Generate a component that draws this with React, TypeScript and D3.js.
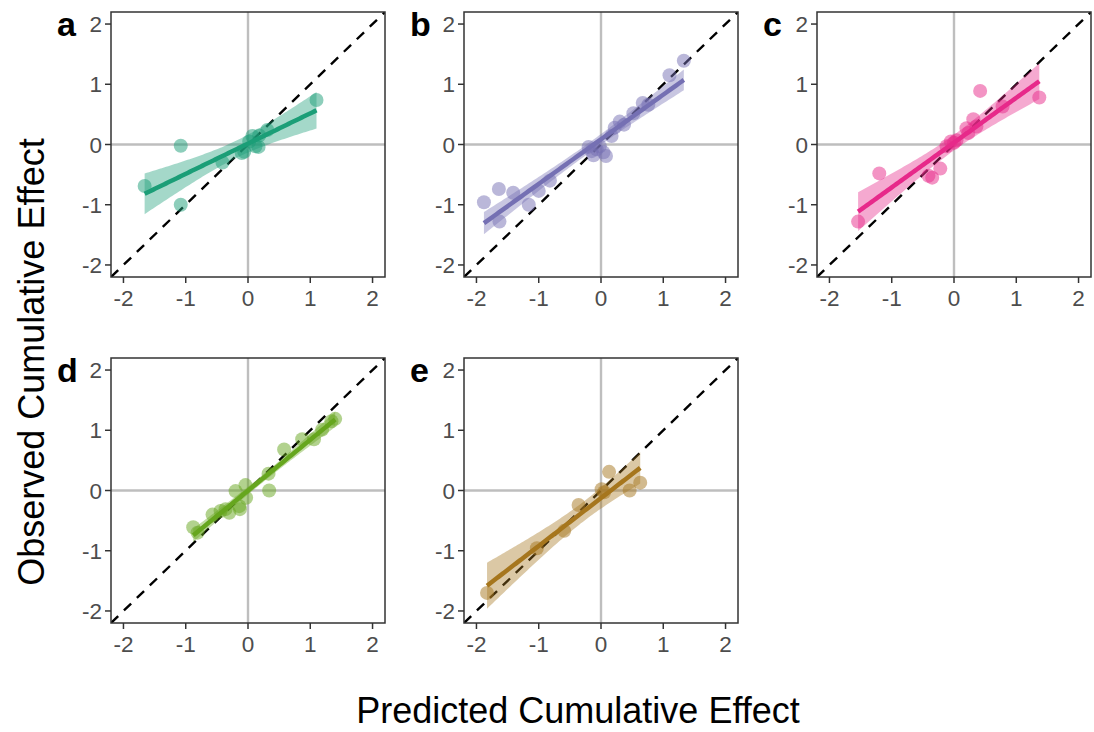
import React from 'react';
import * as d3 from 'd3';

// observed vs predicted cumulative effect, one panel per group
const panelLabels = ['a', 'b', 'c', 'd', 'e'];
const panelColors = ['#1B9E77', '#7570B3', '#E7298A', '#66A61E', '#A6761D'];

const predA = [-1.66, -1.08, -1.08, -0.41, -0.10, -0.06, 0.02, 0.07, 0.12, 0.17, 0.18, 0.31, 1.10];
const obsA = [-0.69, -0.02, -1.00, -0.30, -0.14, -0.12, 0.05, 0.14, -0.03, -0.04, 0.15, 0.24, 0.74];

const predB = [-1.88, -1.64, -1.63, -1.41, -1.16, -1.00, -0.82, -0.20, -0.15, -0.12, -0.07, -0.02, 0.04, 0.08, 0.17, 0.22, 0.30, 0.37, 0.52, 0.67, 0.76, 1.10, 1.33];
const obsB = [-0.96, -0.74, -1.28, -0.80, -1.00, -0.77, -0.60, -0.04, -0.11, -0.18, -0.08, -0.03, -0.13, -0.19, 0.14, 0.28, 0.38, 0.33, 0.52, 0.69, 0.66, 1.15, 1.39];

const predC = [-1.54, -1.20, -0.41, -0.35, -0.22, -0.12, -0.05, 0.00, 0.04, 0.20, 0.23, 0.31, 0.36, 0.42, 0.78, 1.37];
const obsC = [-1.28, -0.48, -0.52, -0.55, -0.40, -0.03, 0.05, 0.03, 0.07, 0.27, 0.19, 0.42, 0.30, 0.89, 0.63, 0.78];

const predD = [-0.88, -0.81, -0.57, -0.44, -0.36, -0.30, -0.20, -0.14, -0.13, -0.04, -0.03, 0.33, 0.34, 0.58, 0.87, 1.06, 1.19, 1.34, 1.40];
const obsD = [-0.61, -0.70, -0.40, -0.34, -0.31, -0.37, -0.01, -0.26, -0.31, 0.09, -0.12, 0.28, 0.00, 0.68, 0.85, 0.85, 1.01, 1.15, 1.19];

const predE = [-1.83, -1.03, -0.59, -0.36, 0.01, 0.05, 0.13, 0.46, 0.63];
const obsE = [-1.70, -0.96, -0.67, -0.24, 0.02, -0.03, 0.31, 0.00, 0.13];

const axisTicks = [-2, -1, 0, 1, 2];

const W = 1094;
const H = 732;
const panelW = 274;
const panelH = 265;
const colX = [111, 464, 817];
const rowY = [12, 358];
const FONT = '"Liberation Sans", Arial, Helvetica, sans-serif';

// t quantile via Cornish-Fisher expansion (good enough for 95% CI)
function qt975(df: number) {
  const z = 1.959964;
  const z3 = z ** 3, z5 = z ** 5, z7 = z ** 7, z9 = z ** 9;
  const g1 = (z3 + z) / 4;
  const g2 = (5 * z5 + 16 * z3 + 3 * z) / 96;
  const g3 = (3 * z7 + 19 * z5 + 17 * z3 - 15 * z) / 384;
  const g4 = (79 * z9 + 776 * z7 + 1482 * z5 - 1920 * z3 - 945 * z) / 92160;
  return z + g1 / df + g2 / df ** 2 + g3 / df ** 3 + g4 / df ** 4;
}

// linear fit with 95% confidence band, like geom_smooth(method = "lm")
function fitLm(xs: number[], ys: number[]) {
  const n = xs.length;
  const mx = d3.mean(xs)!;
  const my = d3.mean(ys)!;
  let sxx = 0, sxy = 0;
  xs.forEach((x, i) => {
    sxx += (x - mx) ** 2;
    sxy += (x - mx) * (ys[i] - my);
  });
  const slope = sxy / sxx;
  const icpt = my - slope * mx;
  const sse = d3.sum(xs, (x, i) => (ys[i] - icpt - slope * x) ** 2);
  const s = Math.sqrt(sse / (n - 2));
  const t = qt975(n - 2);
  const [x0, x1] = d3.extent(xs) as [number, number];
  return d3.range(81).map(k => {
    const x = x0 + (x1 - x0) * k / 80;
    const fit = icpt + slope * x;
    const se = s * Math.sqrt(1 / n + (x - mx) ** 2 / sxx);
    return { x, fit, lo: fit - t * se, hi: fit + t * se };
  });
}

const panels = [
  { xs: predA, ys: obsA },
  { xs: predB, ys: obsB },
  { xs: predC, ys: obsC },
  { xs: predD, ys: obsD },
  { xs: predE, ys: obsE },
];

function Panel({ idx, xs, ys }: { idx: number; xs: number[]; ys: number[] }) {
  const left = colX[idx % 3];
  const top = rowY[Math.floor(idx / 3)];
  const color = panelColors[idx];
  const x = d3.scaleLinear().domain([-2.2, 2.2]).range([0, panelW]);
  const y = d3.scaleLinear().domain([-2.2, 2.2]).range([panelH, 0]);
  const band = fitLm(xs, ys);
  const area = d3.area<any>().x(d => x(d.x)).y0(d => y(d.lo)).y1(d => y(d.hi));
  const line = d3.line<any>().x(d => x(d.x)).y(d => y(d.fit));
  const clipId = `clip-${idx}`;

  return (
    <g transform={`translate(${left},${top})`}>
      <defs>
        <clipPath id={clipId}>
          <rect x={0} y={0} width={panelW} height={panelH} />
        </clipPath>
      </defs>
      <rect x={0} y={0} width={panelW} height={panelH} fill="white" />
      <g clipPath={`url(#${clipId})`}>
        <line x1={x(0)} x2={x(0)} y1={0} y2={panelH} stroke="#BEBEBE" strokeWidth={2.4} />
        <line x1={0} x2={panelW} y1={y(0)} y2={y(0)} stroke="#BEBEBE" strokeWidth={2.4} />
        <line x1={x(-2.2)} y1={y(-2.2)} x2={x(2.2)} y2={y(2.2)}
          stroke="black" strokeWidth={2.4} strokeDasharray="10,8" />
        <path d={area(band)!} fill={color} fillOpacity={0.4} />
        {xs.map((v, i) => (
          <circle key={i} cx={x(v)} cy={y(ys[i])} r={7} fill={color} fillOpacity={0.5} />
        ))}
        <path d={line(band)!} fill="none" stroke={color} strokeWidth={4.5} />
      </g>
      <rect x={0} y={0} width={panelW} height={panelH} fill="none" stroke="#333333" strokeWidth={1.5} />
      {axisTicks.map(t => (
        <g key={'x' + t}>
          <line x1={x(t)} x2={x(t)} y1={panelH} y2={panelH + 6} stroke="#333333" strokeWidth={1.5} />
          <text x={x(t)} y={panelH + 29} textAnchor="middle" fontSize={22.5} fill="#4D4D4D" fontFamily={FONT}>
            {t}
          </text>
        </g>
      ))}
      {axisTicks.map(t => (
        <g key={'y' + t}>
          <line x1={-6} x2={0} y1={y(t)} y2={y(t)} stroke="#333333" strokeWidth={1.5} />
          <text x={-9} y={y(t)} dy="0.36em" textAnchor="end" fontSize={22.5} fill="#4D4D4D" fontFamily={FONT}>
            {t}
          </text>
        </g>
      ))}
      <text x={-54} y={24} fontSize={34} fontWeight="bold" fill="black" fontFamily={FONT}>
        {panelLabels[idx]}
      </text>
    </g>
  );
}

export default function App() {
  return (
    <svg width={W} height={H} style={{ position: 'absolute', left: 0, top: 0, background: 'white' }}>
      <rect width={W} height={H} fill="white" />
      {panels.map((p, i) => (
        <Panel key={i} idx={i} xs={p.xs} ys={p.ys} />
      ))}
      <text x={578} y={723} textAnchor="middle" fontSize={36} fill="black" fontFamily={FONT}>
        Predicted Cumulative Effect
      </text>
      <text transform="translate(44,362) rotate(-90)" textAnchor="middle" fontSize={36} fill="black" fontFamily={FONT}>
        Observed Cumulative Effect
      </text>
    </svg>
  );
}
